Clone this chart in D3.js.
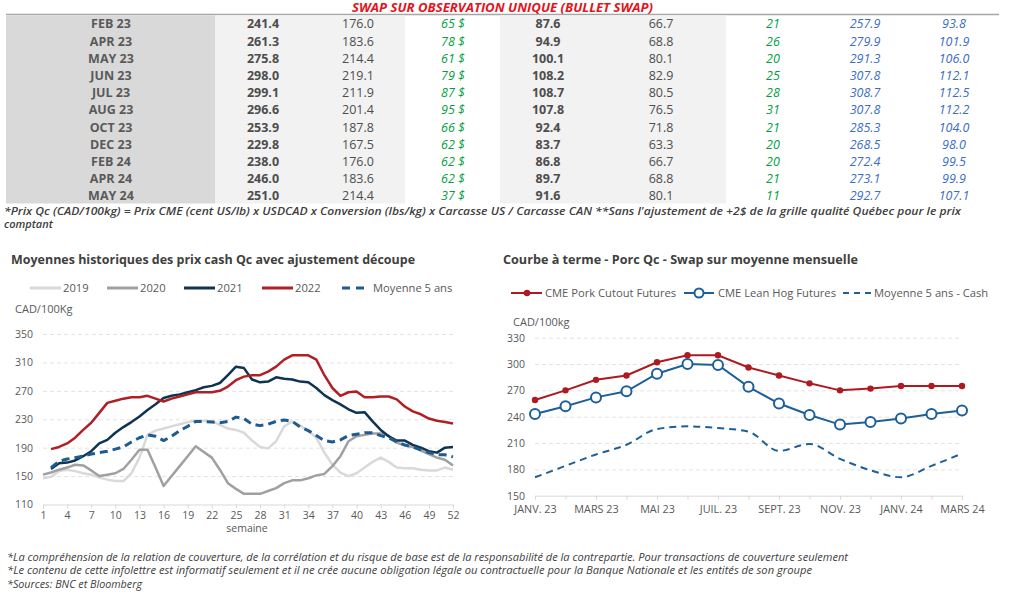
<!DOCTYPE html>
<html>
<head>
<meta charset="utf-8">
<script src="https://cdn.jsdelivr.net/npm/d3@7"></script>
<style>
body { margin: 0; background: #fff; }
svg { display: block; font-family: "Open Sans", sans-serif; }
</style>
</head>
<body>
<svg id="chart" width="1024" height="600"></svg>
<script>
/* TABLE DATA */
var months = ['FEB 23','APR 23','MAY 23','JUN 23','JUL 23','AUG 23','OCT 23','DEC 23','FEB 24','APR 24','MAY 24'];
var qcSwap = [241.4, 261.3, 275.8, 298.0, 299.1, 296.6, 253.9, 229.8, 238.0, 246.0, 251.0];
var qcHist = [176.0, 183.6, 214.4, 219.1, 211.9, 201.4, 187.8, 167.5, 176.0, 183.6, 214.4];
var qcDiff = [65, 78, 61, 79, 87, 95, 66, 62, 62, 62, 37];
var cmeSwap = [87.6, 94.9, 100.1, 108.2, 108.7, 107.8, 92.4, 83.7, 86.8, 89.7, 91.6];
var cmeHist = [66.7, 68.8, 80.1, 82.9, 80.5, 76.5, 71.8, 63.3, 66.7, 68.8, 80.1];
var cmeDiff = [21, 26, 20, 25, 28, 31, 21, 20, 20, 21, 11];
var qcLast = [257.9, 279.9, 291.3, 307.8, 308.7, 307.8, 285.3, 268.5, 272.4, 273.1, 292.7];
var cmeLast = [93.8, 101.9, 106.0, 112.1, 112.5, 112.2, 104.0, 98.0, 99.5, 99.9, 107.1];

/* LEFT CHART DATA (semaines 1..52) */
var weeks = d3.range(1, 53);
var weekTicks = d3.range(1, 53, 3);
var y2019 = [147,149,157,159,157,154,152,148,145,143,143,154,176,208,214,217,220,223,226,228,228,227,222,217,215,211,
             200,191,189,199,220,227,221,214,204,183,166,155,150,154,162,170,176,170,162,161,161,159,158,158,162,159];
var y2020 = [152,155,159,162,166,165,158,150,152,154,160,173,187,187,162,136,150,164,178,192,184,176,159,140,132,125,
             125,125,129,133,140,144,144,147,151,153,164,178,199,206,208,210,210,207,197,193,191,186,181,176,173,165];
var y2021 = [null,160,168,169,172,178,185,196,201,211,219,226,234,243,251,260,263,265,268,271,275,277,281,292,304,302,
             286,282,283,289,287,286,283,282,274,264,257,251,244,239,240,227,215,206,200,200,194,190,185,183,190,191];
var y2022 = [null,188,191,196,204,215,225,239,253,256,259,261,261,263,259,255,259,262,265,268,268,268,270,276,285,290,
             292,292,297,304,314,320,320,320,314,292,274,263,268,269,261,261,262,262,258,248,241,237,231,228,226,224];
var yAvg5 = [null,162,171,174,176,178,181,183,185,188,191,198,204,208,206,200,206,214,220,227,227,226,225,227,233,231,
             223,221,223,227,229,227,219,214,207,200,198,201,207,209,211,211,207,204,198,194,191,187,183,180,180,177];
var histSeries = [
    { name: '2019', values: y2019, color: '#d9d9d9', dash: null },
    { name: '2020', values: y2020, color: '#a0a0a0', dash: null },
    { name: '2021', values: y2021, color: '#0f3453', dash: null },
    { name: '2022', values: y2022, color: '#b11f24', dash: null },
    { name: 'Moyenne 5 ans', values: yAvg5, color: '#1e5b91', dash: '8,5' }
];

/* RIGHT CHART DATA */
var fwdMonths = ['JANV. 23','FÉVR. 23','MARS 23','AVR. 23','MAI 23','JUIN 23','JUIL. 23','AOÛT 23','SEPT. 23','OCT. 23','NOV. 23','DÉC. 23','JANV. 24','FÉVR. 24','MARS 24'];
var porkCutout = [259, 270, 282, 287, 302, 310, 310, 296, 287, 278, 270, 272, 275, 275, 275];
var leanHog = [243, 252, 262, 269, 289, 300, 299, 274, 255, 242, 231, 234, 238, 243, 247];
var cashAvg5 = [171, 184, 197, 208, 226, 229, 227, 223, 201, 209, 192, 179, 171, 184, 198];

var svg = d3.select('#chart');
var txtCol = '#595959';

/* ---------- TABLE ---------- */
svg.append('text')
    .attr('x', 352).attr('y', 8).attr('dy', '0.35em')
    .attr('textLength', 301).attr('lengthAdjust', 'spacingAndGlyphs')
    .style('font-size', '12px').style('font-weight', 'bold').style('font-style', 'italic')
    .style('fill', '#e3141c')
    .text('SWAP SUR OBSERVATION UNIQUE (BULLET SWAP)');

svg.append('line')
    .attr('x1', 6).attr('x2', 999).attr('y1', 14.5).attr('y2', 14.5)
    .style('stroke', '#a6a6a6').style('stroke-width', 1.5);

svg.append('rect').attr('x', 6).attr('y', 15.5).attr('width', 209).attr('height', 188).style('fill', '#d9d9d9');
svg.append('rect').attr('x', 215).attr('y', 15.5).attr('width', 190).attr('height', 188).style('fill', '#f2f2f2');
svg.append('rect').attr('x', 500).attr('y', 15.5).attr('width', 226).attr('height', 188).style('fill', '#f2f2f2');

var rowY = d3.scaleLinear().domain([0, months.length - 1]).range([24, 196]);

var tableCols = [
    { data: months, x: 111, fmt: String, weight: 'bold', style: 'normal', color: txtCol },
    { data: qcSwap, x: 263, fmt: d3.format('.1f'), weight: 'bold', style: 'normal', color: '#4d4d4d' },
    { data: qcHist, x: 358, fmt: d3.format('.1f'), weight: 'normal', style: 'normal', color: '#4d4d4d' },
    { data: qcDiff, x: 453, fmt: function(d) { return d + ' $'; }, weight: 'normal', style: 'italic', color: '#00a040' },
    { data: cmeSwap, x: 548, fmt: d3.format('.1f'), weight: 'bold', style: 'normal', color: '#4d4d4d' },
    { data: cmeHist, x: 661, fmt: d3.format('.1f'), weight: 'normal', style: 'normal', color: '#4d4d4d' },
    { data: cmeDiff, x: 773, fmt: String, weight: 'normal', style: 'italic', color: '#00a040' },
    { data: qcLast, x: 865, fmt: d3.format('.1f'), weight: 'normal', style: 'italic', color: '#3a6cc8' },
    { data: cmeLast, x: 954, fmt: d3.format('.1f'), weight: 'normal', style: 'italic', color: '#3a6cc8' }
];

tableCols.forEach(function(col) {
    svg.append('g').selectAll('text')
        .data(col.data)
        .enter().append('text')
        .attr('x', col.x)
        .attr('y', function(d, i) { return rowY(i); })
        .attr('dy', '0.35em')
        .style('text-anchor', 'middle')
        .style('font-size', '12.5px')
        .style('font-weight', col.weight)
        .style('font-style', col.style)
        .style('fill', col.color)
        .text(col.fmt);
});

svg.append('text')
    .attr('x', 4).attr('y', 211).attr('dy', '0.35em')
    .attr('textLength', 957).attr('lengthAdjust', 'spacingAndGlyphs')
    .style('font-size', '11px').style('font-style', 'italic').style('font-weight', 600).style('fill', '#404040')
    .text("*Prix Qc (CAD/100kg) = Prix CME (cent US/lb) x USDCAD x Conversion (lbs/kg) x Carcasse US / Carcasse CAN **Sans l'ajustement de +2$ de la grille qualité Québec pour le prix");
svg.append('text')
    .attr('x', 4).attr('y', 224.5).attr('dy', '0.35em')
    .style('font-size', '11px').style('font-style', 'italic').style('font-weight', 600).style('fill', '#404040')
    .text('comptant');

/* ---------- LEFT CHART ---------- */
svg.append('text')
    .attr('x', 11).attr('y', 260).attr('dy', '0.35em')
    .attr('textLength', 404).attr('lengthAdjust', 'spacingAndGlyphs')
    .style('font-size', '12.5px').style('font-weight', 'bold').style('fill', '#404040')
    .text('Moyennes historiques des prix cash Qc avec ajustement découpe');

var xL = d3.scaleLinear().domain([1, 52]).range([43, 453]);
var yL = d3.scaleLinear().domain([110, 350]).range([504.5, 334]);

var gridL = svg.append('g')
    .attr('transform', 'translate(' + xL(1) + ',0)')
    .call(d3.axisLeft(yL).tickValues(d3.range(110, 351, 40)).tickSize(-(xL(52) - xL(1))).tickPadding(10));
gridL.select('.domain').remove();
gridL.selectAll('line').style('stroke', '#e3e3e3').style('stroke-dasharray', '4,3')
    .filter(function(d) { return d === 110; }).remove();
gridL.selectAll('text').style('font-size', '10.5px').style('fill', txtCol).style('font-family', '"Open Sans", sans-serif');

var axL = svg.append('g')
    .attr('transform', 'translate(0,' + yL(110) + ')')
    .call(d3.axisBottom(xL).tickValues(weekTicks).tickSize(4).tickSizeOuter(0).tickPadding(3));
axL.select('.domain').style('stroke', '#d9d9d9');
axL.selectAll('line').style('stroke', '#d9d9d9');
axL.selectAll('text').style('font-size', '10.5px').style('fill', txtCol).style('font-family', '"Open Sans", sans-serif');

svg.append('text')
    .attr('x', 247).attr('y', 528).attr('dy', '0.35em')
    .style('text-anchor', 'middle').style('font-size', '10.5px').style('fill', txtCol)
    .text('semaine');

svg.append('text')
    .attr('x', 15).attr('y', 309).attr('dy', '0.35em')
    .style('font-size', '11px').style('fill', txtCol)
    .text('CAD/100Kg');

var lineL = d3.line()
    .defined(function(d) { return d != null; })
    .x(function(d, i) { return xL(weeks[i]); })
    .y(function(d) { return yL(d); });

svg.append('g').selectAll('path')
    .data(histSeries)
    .enter().append('path')
    .attr('d', function(s) { return lineL(s.values); })
    .style('fill', 'none')
    .style('stroke', function(s) { return s.color; })
    .style('stroke-width', function(s) { return s.dash ? 3 : 2.5; })
    .style('stroke-dasharray', function(s) { return s.dash; })
    .style('stroke-linejoin', 'round');

var legL = [30, 107, 184, 262, 342];
var legendL = svg.append('g').selectAll('g')
    .data(histSeries)
    .enter().append('g')
    .attr('transform', function(d, i) { return 'translate(' + legL[i] + ',288)'; });
legendL.append('line')
    .attr('x1', 0).attr('x2', function(d) { return d.dash ? 28 : 31; })
    .style('stroke', function(d) { return d.color; })
    .style('stroke-width', 3)
    .style('stroke-dasharray', function(d) { return d.dash ? '8,6' : null; });
legendL.append('text')
    .attr('x', function(d) { return d.dash ? 31 : 33; }).attr('dy', '0.35em')
    .style('font-size', '11.2px').style('fill', txtCol)
    .text(function(d) { return d.name; });

/* ---------- RIGHT CHART ---------- */
svg.append('text')
    .attr('x', 503).attr('y', 260).attr('dy', '0.35em')
    .attr('textLength', 355).attr('lengthAdjust', 'spacingAndGlyphs')
    .style('font-size', '12.5px').style('font-weight', 'bold').style('fill', '#404040')
    .text('Courbe à terme - Porc Qc - Swap sur moyenne mensuelle');

var xR = d3.scalePoint().domain(fwdMonths).range([535, 962]);
var yR = d3.scaleLinear().domain([150, 330]).range([495.7, 337.7]);

var gridR = svg.append('g')
    .attr('transform', 'translate(' + xR(fwdMonths[0]) + ',0)')
    .call(d3.axisLeft(yR).tickValues(d3.range(150, 331, 30)).tickSize(-(xR.range()[1] - xR.range()[0])).tickPadding(10));
gridR.select('.domain').remove();
gridR.selectAll('line').style('stroke', '#e3e3e3').style('stroke-dasharray', '4,3')
    .filter(function(d) { return d === 150; }).remove();
gridR.selectAll('text').style('font-size', '10.5px').style('fill', txtCol).style('font-family', '"Open Sans", sans-serif');

var axR = svg.append('g')
    .attr('transform', 'translate(0,' + yR(150) + ')')
    .call(d3.axisBottom(xR).tickSize(4).tickSizeOuter(0).tickPadding(6)
        .tickFormat(function(d, i) { return i % 2 ? '' : d; }));
axR.select('.domain').style('stroke', '#d9d9d9');
axR.selectAll('line').style('stroke', '#d9d9d9');
axR.selectAll('text').style('font-size', '10.8px').style('fill', txtCol).style('font-family', '"Open Sans", sans-serif');

svg.append('text')
    .attr('x', 513).attr('y', 322).attr('dy', '0.35em')
    .style('font-size', '11px').style('fill', txtCol)
    .text('CAD/100kg');

var lineR = d3.line()
    .x(function(d, i) { return xR(fwdMonths[i]); })
    .y(function(d) { return yR(d); });
var lineRs = d3.line()
    .curve(d3.curveMonotoneX)
    .x(function(d, i) { return xR(fwdMonths[i]); })
    .y(function(d) { return yR(d); });

svg.append('path').attr('d', lineRs(cashAvg5))
    .style('fill', 'none').style('stroke', '#1d5f99').style('stroke-width', 2).style('stroke-dasharray', '7,5');
svg.append('path').attr('d', lineR(porkCutout))
    .style('fill', 'none').style('stroke', '#ad1a20').style('stroke-width', 2);
svg.append('path').attr('d', lineR(leanHog))
    .style('fill', 'none').style('stroke', '#1d5f99').style('stroke-width', 2);

svg.append('g').selectAll('circle')
    .data(porkCutout)
    .enter().append('circle')
    .attr('cx', function(d, i) { return xR(fwdMonths[i]); })
    .attr('cy', function(d) { return yR(d); })
    .attr('r', 3.2)
    .style('fill', '#ad1a20');
svg.append('g').selectAll('circle')
    .data(leanHog)
    .enter().append('circle')
    .attr('cx', function(d, i) { return xR(fwdMonths[i]); })
    .attr('cy', function(d) { return yR(d); })
    .attr('r', 5)
    .style('fill', '#fff').style('stroke', '#1d5f99').style('stroke-width', 2);

// legende droite
var legR = svg.append('g').attr('transform', 'translate(0,293)');
legR.append('line').attr('x1', 511).attr('x2', 542).style('stroke', '#ad1a20').style('stroke-width', 2);
legR.append('circle').attr('cx', 527).attr('r', 3.2).style('fill', '#ad1a20');
legR.append('text').attr('x', 545).attr('dy', '0.35em').style('font-size', '11.2px').style('fill', txtCol)
    .text('CME Pork Cutout Futures');
legR.append('line').attr('x1', 684).attr('x2', 714).style('stroke', '#1d5f99').style('stroke-width', 2);
legR.append('circle').attr('cx', 699).attr('r', 4.5).style('fill', '#fff').style('stroke', '#1d5f99').style('stroke-width', 2);
legR.append('text').attr('x', 718).attr('dy', '0.35em').style('font-size', '11.2px').style('fill', txtCol)
    .text('CME Lean Hog Futures');
legR.append('line').attr('x1', 843).attr('x2', 873).style('stroke', '#1d5f99').style('stroke-width', 2).style('stroke-dasharray', '6,5');
legR.append('text').attr('x', 874).attr('dy', '0.35em').style('font-size', '11.2px').style('fill', txtCol)
    .text('Moyenne 5 ans - Cash');

/* ---------- FOOTNOTES ---------- */
var notes = [
    { t: '*La compréhension de la relation de couverture, de la corrélation et du risque de base est de la responsabilité de la contrepartie. Pour transactions de couverture seulement', w: 841 },
    { t: '*Le contenu de cette infolettre est informatif seulement et il ne crée aucune obligation légale ou contractuelle pour la Banque Nationale et les entités de son groupe', w: 805 },
    { t: '*Sources: BNC et Bloomberg', w: 135 }
];
svg.append('g').selectAll('text')
    .data(notes)
    .enter().append('text')
    .attr('x', 7)
    .attr('y', function(d, i) { return 557 + i * 13.5; })
    .attr('dy', '0.35em')
    .attr('textLength', function(d) { return d.w; })
    .attr('lengthAdjust', 'spacingAndGlyphs')
    .style('font-size', '10.5px').style('font-style', 'italic').style('fill', '#404040')
    .text(function(d) { return d.t; });
</script>
</body>
</html>
